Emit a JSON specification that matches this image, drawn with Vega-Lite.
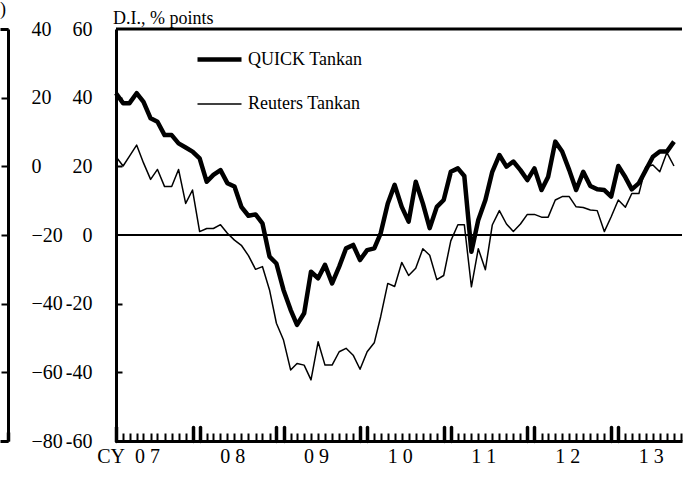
{
  "$schema": "https://vega.github.io/schema/vega-lite/v6.json",
  "padding": {"top": 1, "left": 0, "right": 0, "bottom": 0},
  "autosize": {"type": "pad"},
  "background": "white",
  "bounds": "flush",
  "spacing": 108,
  "config": {
    "view": {"stroke": null},
    "font": "Liberation Serif",
    "axis": {"labelFont": "Liberation Serif", "labelFontSize": 20, "labelColor": "black", "domainColor": "black", "tickColor": "black", "gridColor": "black", "labelFlush": false, "labelOverlap": false},
    "axisX": {"grid": false},
    "title": {"font": "Liberation Serif", "fontWeight": "normal", "color": "black", "fontSize": 18}
  },
  "hconcat": [
    {
      "width": 8,
      "height": 412,
      "title": {"text": ")", "anchor": "end", "frame": "group", "offset": 0, "dx": -2},
      "data": {"values": []},
      "mark": {"type": "point"},
      "encoding": {
        "x": {"field": "t", "type": "quantitative", "scale": {"domain": [0, 8], "nice": false, "zero": false},
          "axis": {"orient": "bottom", "title": null, "grid": false, "values": [8], "labels": false, "domainWidth": 3, "tickSize": -9, "tickWidth": 3.5}},
        "y": {"field": "v", "type": "quantitative", "scale": {"domain": [-80, 40], "nice": false, "zero": false},
          "axis": {"orient": "right", "title": null, "values": [-80, -60, -40, -20, 0, 20, 40], "domainWidth": 3, "tickSize": -7, "tickWidth": 2, "labelPadding": 30, "labelAlign": "left",
            "labelExpr": "datum.value < 0 ? '\u2212' + (-datum.value) : '' + datum.value",
            "grid": true, "gridOpacity": {"condition": {"test": "datum.value == 40", "value": 1}, "value": 0}, "gridWidth": 3}}
      }
    },
    {
      "width": 566,
      "height": 412,
      "title": {"text": "D.I., % points", "anchor": "start", "frame": "group", "offset": -9, "dx": -3},
      "resolve": {"axis": {"x": "independent", "y": "independent"}},
      "layer": [
        {
          "data": {"values": [
            {"date": "2007-01-01", "series": "QUICK Tankan", "value": 41.3},
            {"date": "2007-02-01", "series": "QUICK Tankan", "value": 38.4},
            {"date": "2007-03-01", "series": "QUICK Tankan", "value": 38.4},
            {"date": "2007-04-01", "series": "QUICK Tankan", "value": 41.3},
            {"date": "2007-05-01", "series": "QUICK Tankan", "value": 38.8},
            {"date": "2007-06-01", "series": "QUICK Tankan", "value": 34},
            {"date": "2007-07-01", "series": "QUICK Tankan", "value": 33},
            {"date": "2007-08-01", "series": "QUICK Tankan", "value": 29.1},
            {"date": "2007-09-01", "series": "QUICK Tankan", "value": 29.1},
            {"date": "2007-10-01", "series": "QUICK Tankan", "value": 26.7},
            {"date": "2007-11-01", "series": "QUICK Tankan", "value": 25.5},
            {"date": "2007-12-01", "series": "QUICK Tankan", "value": 24.3},
            {"date": "2008-01-01", "series": "QUICK Tankan", "value": 22.3},
            {"date": "2008-02-01", "series": "QUICK Tankan", "value": 15.5},
            {"date": "2008-03-01", "series": "QUICK Tankan", "value": 17.5},
            {"date": "2008-04-01", "series": "QUICK Tankan", "value": 18.9},
            {"date": "2008-05-01", "series": "QUICK Tankan", "value": 15.1},
            {"date": "2008-06-01", "series": "QUICK Tankan", "value": 14.1},
            {"date": "2008-07-01", "series": "QUICK Tankan", "value": 8.2},
            {"date": "2008-08-01", "series": "QUICK Tankan", "value": 5.6},
            {"date": "2008-09-01", "series": "QUICK Tankan", "value": 6},
            {"date": "2008-10-01", "series": "QUICK Tankan", "value": 3.4},
            {"date": "2008-11-01", "series": "QUICK Tankan", "value": -6.3},
            {"date": "2008-12-01", "series": "QUICK Tankan", "value": -8.3},
            {"date": "2009-01-01", "series": "QUICK Tankan", "value": -16},
            {"date": "2009-02-01", "series": "QUICK Tankan", "value": -21.8},
            {"date": "2009-03-01", "series": "QUICK Tankan", "value": -26.2},
            {"date": "2009-04-01", "series": "QUICK Tankan", "value": -22.8},
            {"date": "2009-05-01", "series": "QUICK Tankan", "value": -10.7},
            {"date": "2009-06-01", "series": "QUICK Tankan", "value": -12.6},
            {"date": "2009-07-01", "series": "QUICK Tankan", "value": -8.7},
            {"date": "2009-08-01", "series": "QUICK Tankan", "value": -14.1},
            {"date": "2009-09-01", "series": "QUICK Tankan", "value": -9.2},
            {"date": "2009-10-01", "series": "QUICK Tankan", "value": -3.9},
            {"date": "2009-11-01", "series": "QUICK Tankan", "value": -2.9},
            {"date": "2009-12-01", "series": "QUICK Tankan", "value": -7.3},
            {"date": "2010-01-01", "series": "QUICK Tankan", "value": -4.4},
            {"date": "2010-02-01", "series": "QUICK Tankan", "value": -3.9},
            {"date": "2010-03-01", "series": "QUICK Tankan", "value": 0.5},
            {"date": "2010-04-01", "series": "QUICK Tankan", "value": 9.2},
            {"date": "2010-05-01", "series": "QUICK Tankan", "value": 14.6},
            {"date": "2010-06-01", "series": "QUICK Tankan", "value": 8.2},
            {"date": "2010-07-01", "series": "QUICK Tankan", "value": 3.9},
            {"date": "2010-08-01", "series": "QUICK Tankan", "value": 15.5},
            {"date": "2010-09-01", "series": "QUICK Tankan", "value": 9.2},
            {"date": "2010-10-01", "series": "QUICK Tankan", "value": 2},
            {"date": "2010-11-01", "series": "QUICK Tankan", "value": 8.2},
            {"date": "2010-12-01", "series": "QUICK Tankan", "value": 10.2},
            {"date": "2011-01-01", "series": "QUICK Tankan", "value": 18.4},
            {"date": "2011-02-01", "series": "QUICK Tankan", "value": 19.4},
            {"date": "2011-03-01", "series": "QUICK Tankan", "value": 17.2},
            {"date": "2011-04-01", "series": "QUICK Tankan", "value": -4.9},
            {"date": "2011-05-01", "series": "QUICK Tankan", "value": 4.4},
            {"date": "2011-06-01", "series": "QUICK Tankan", "value": 10.2},
            {"date": "2011-07-01", "series": "QUICK Tankan", "value": 18.4},
            {"date": "2011-08-01", "series": "QUICK Tankan", "value": 23.3},
            {"date": "2011-09-01", "series": "QUICK Tankan", "value": 19.9},
            {"date": "2011-10-01", "series": "QUICK Tankan", "value": 21.4},
            {"date": "2011-11-01", "series": "QUICK Tankan", "value": 18.9},
            {"date": "2011-12-01", "series": "QUICK Tankan", "value": 16},
            {"date": "2012-01-01", "series": "QUICK Tankan", "value": 19.4},
            {"date": "2012-02-01", "series": "QUICK Tankan", "value": 13.1},
            {"date": "2012-03-01", "series": "QUICK Tankan", "value": 17},
            {"date": "2012-04-01", "series": "QUICK Tankan", "value": 27.2},
            {"date": "2012-05-01", "series": "QUICK Tankan", "value": 24.3},
            {"date": "2012-06-01", "series": "QUICK Tankan", "value": 18.9},
            {"date": "2012-07-01", "series": "QUICK Tankan", "value": 13.1},
            {"date": "2012-08-01", "series": "QUICK Tankan", "value": 18.4},
            {"date": "2012-09-01", "series": "QUICK Tankan", "value": 14.3},
            {"date": "2012-10-01", "series": "QUICK Tankan", "value": 13.3},
            {"date": "2012-11-01", "series": "QUICK Tankan", "value": 13.1},
            {"date": "2012-12-01", "series": "QUICK Tankan", "value": 11.2},
            {"date": "2013-01-01", "series": "QUICK Tankan", "value": 20.1},
            {"date": "2013-02-01", "series": "QUICK Tankan", "value": 16.8},
            {"date": "2013-03-01", "series": "QUICK Tankan", "value": 13.3},
            {"date": "2013-04-01", "series": "QUICK Tankan", "value": 15.1},
            {"date": "2013-05-01", "series": "QUICK Tankan", "value": 18.9},
            {"date": "2013-06-01", "series": "QUICK Tankan", "value": 22.8},
            {"date": "2013-07-01", "series": "QUICK Tankan", "value": 24.3},
            {"date": "2013-08-01", "series": "QUICK Tankan", "value": 24.3},
            {"date": "2013-09-01", "series": "QUICK Tankan", "value": 27.2},
            {"date": "2007-01-01", "series": "Reuters Tankan", "value": 22.8},
            {"date": "2007-02-01", "series": "Reuters Tankan", "value": 20.1},
            {"date": "2007-03-01", "series": "Reuters Tankan", "value": 23},
            {"date": "2007-04-01", "series": "Reuters Tankan", "value": 26.2},
            {"date": "2007-05-01", "series": "Reuters Tankan", "value": 21},
            {"date": "2007-06-01", "series": "Reuters Tankan", "value": 16.2},
            {"date": "2007-07-01", "series": "Reuters Tankan", "value": 19.1},
            {"date": "2007-08-01", "series": "Reuters Tankan", "value": 14.1},
            {"date": "2007-09-01", "series": "Reuters Tankan", "value": 14.1},
            {"date": "2007-10-01", "series": "Reuters Tankan", "value": 19.1},
            {"date": "2007-11-01", "series": "Reuters Tankan", "value": 9.2},
            {"date": "2007-12-01", "series": "Reuters Tankan", "value": 13.1},
            {"date": "2008-01-01", "series": "Reuters Tankan", "value": 1},
            {"date": "2008-02-01", "series": "Reuters Tankan", "value": 1.9},
            {"date": "2008-03-01", "series": "Reuters Tankan", "value": 1.9},
            {"date": "2008-04-01", "series": "Reuters Tankan", "value": 3},
            {"date": "2008-05-01", "series": "Reuters Tankan", "value": 0.5},
            {"date": "2008-06-01", "series": "Reuters Tankan", "value": -1.5},
            {"date": "2008-07-01", "series": "Reuters Tankan", "value": -3},
            {"date": "2008-08-01", "series": "Reuters Tankan", "value": -6},
            {"date": "2008-09-01", "series": "Reuters Tankan", "value": -10},
            {"date": "2008-10-01", "series": "Reuters Tankan", "value": -9.2},
            {"date": "2008-11-01", "series": "Reuters Tankan", "value": -16},
            {"date": "2008-12-01", "series": "Reuters Tankan", "value": -25.7},
            {"date": "2009-01-01", "series": "Reuters Tankan", "value": -30.6},
            {"date": "2009-02-01", "series": "Reuters Tankan", "value": -39.3},
            {"date": "2009-03-01", "series": "Reuters Tankan", "value": -37.4},
            {"date": "2009-04-01", "series": "Reuters Tankan", "value": -37.9},
            {"date": "2009-05-01", "series": "Reuters Tankan", "value": -42.2},
            {"date": "2009-06-01", "series": "Reuters Tankan", "value": -31.1},
            {"date": "2009-07-01", "series": "Reuters Tankan", "value": -37.9},
            {"date": "2009-08-01", "series": "Reuters Tankan", "value": -37.9},
            {"date": "2009-09-01", "series": "Reuters Tankan", "value": -34},
            {"date": "2009-10-01", "series": "Reuters Tankan", "value": -33},
            {"date": "2009-11-01", "series": "Reuters Tankan", "value": -35},
            {"date": "2009-12-01", "series": "Reuters Tankan", "value": -39.1},
            {"date": "2010-01-01", "series": "Reuters Tankan", "value": -34},
            {"date": "2010-02-01", "series": "Reuters Tankan", "value": -31.4},
            {"date": "2010-03-01", "series": "Reuters Tankan", "value": -23.8},
            {"date": "2010-04-01", "series": "Reuters Tankan", "value": -14.1},
            {"date": "2010-05-01", "series": "Reuters Tankan", "value": -15},
            {"date": "2010-06-01", "series": "Reuters Tankan", "value": -8},
            {"date": "2010-07-01", "series": "Reuters Tankan", "value": -11.8},
            {"date": "2010-08-01", "series": "Reuters Tankan", "value": -9.7},
            {"date": "2010-09-01", "series": "Reuters Tankan", "value": -4},
            {"date": "2010-10-01", "series": "Reuters Tankan", "value": -5.9},
            {"date": "2010-11-01", "series": "Reuters Tankan", "value": -13},
            {"date": "2010-12-01", "series": "Reuters Tankan", "value": -11.8},
            {"date": "2011-01-01", "series": "Reuters Tankan", "value": -1.7},
            {"date": "2011-02-01", "series": "Reuters Tankan", "value": 3},
            {"date": "2011-03-01", "series": "Reuters Tankan", "value": 3},
            {"date": "2011-04-01", "series": "Reuters Tankan", "value": -15.1},
            {"date": "2011-05-01", "series": "Reuters Tankan", "value": -4},
            {"date": "2011-06-01", "series": "Reuters Tankan", "value": -10.1},
            {"date": "2011-07-01", "series": "Reuters Tankan", "value": 2.9},
            {"date": "2011-08-01", "series": "Reuters Tankan", "value": 7.1},
            {"date": "2011-09-01", "series": "Reuters Tankan", "value": 3.2},
            {"date": "2011-10-01", "series": "Reuters Tankan", "value": 1},
            {"date": "2011-11-01", "series": "Reuters Tankan", "value": 3.2},
            {"date": "2011-12-01", "series": "Reuters Tankan", "value": 6},
            {"date": "2012-01-01", "series": "Reuters Tankan", "value": 6},
            {"date": "2012-02-01", "series": "Reuters Tankan", "value": 5.2},
            {"date": "2012-03-01", "series": "Reuters Tankan", "value": 5.2},
            {"date": "2012-04-01", "series": "Reuters Tankan", "value": 10.2},
            {"date": "2012-05-01", "series": "Reuters Tankan", "value": 11.2},
            {"date": "2012-06-01", "series": "Reuters Tankan", "value": 11.2},
            {"date": "2012-07-01", "series": "Reuters Tankan", "value": 8.2},
            {"date": "2012-08-01", "series": "Reuters Tankan", "value": 8},
            {"date": "2012-09-01", "series": "Reuters Tankan", "value": 7.3},
            {"date": "2012-10-01", "series": "Reuters Tankan", "value": 7.1},
            {"date": "2012-11-01", "series": "Reuters Tankan", "value": 1},
            {"date": "2012-12-01", "series": "Reuters Tankan", "value": 5.3},
            {"date": "2013-01-01", "series": "Reuters Tankan", "value": 10.2},
            {"date": "2013-02-01", "series": "Reuters Tankan", "value": 8.1},
            {"date": "2013-03-01", "series": "Reuters Tankan", "value": 12.1},
            {"date": "2013-04-01", "series": "Reuters Tankan", "value": 12.1},
            {"date": "2013-05-01", "series": "Reuters Tankan", "value": 19.9},
            {"date": "2013-06-01", "series": "Reuters Tankan", "value": 20.4},
            {"date": "2013-07-01", "series": "Reuters Tankan", "value": 18.4},
            {"date": "2013-08-01", "series": "Reuters Tankan", "value": 24},
            {"date": "2013-09-01", "series": "Reuters Tankan", "value": 20.1}
          ]},
          "mark": {"type": "line", "color": "black", "strokeJoin": "round"},
          "encoding": {
            "x": {"field": "date", "type": "temporal",
              "scale": {"type": "utc", "domain": [{"year": 2007, "month": 1, "date": 1, "utc": true}, {"year": 2013, "month": 10, "date": 6, "utc": true}]},
              "axis": {"orient": "bottom", "title": null, "grid": false, "domainWidth": 3, "ticks": false,
                "tickCount": {"interval": "month", "step": 1},
                "labelPadding": 5,
                "labelOffset": 5,
                "labelExpr": "utcyear(datum.value) == 2007 ? (utcmonth(datum.value) == 1 ? 'CY\u20020 7' : '') : (utcmonth(datum.value) == 4 ? floor((utcyear(datum.value) - 2000) / 10) + ' ' + ((utcyear(datum.value) - 2000) % 10) : '')"}},
            "y": {"field": "value", "type": "quantitative", "scale": {"domain": [-60, 60], "nice": false, "zero": false},
              "axis": {"orient": "left", "title": null, "grid": false, "values": [-60, -40, -20, 0, 20, 40, 60], "domainWidth": 3, "ticks": false, "labelPadding": 24,
                "labelExpr": "datum.value < 0 ? '-' + (-datum.value) : '' + datum.value"}},
            "strokeWidth": {"field": "series", "type": "nominal",
              "scale": {"domain": ["QUICK Tankan", "Reuters Tankan"], "range": [4.5, 1.5]},
              "legend": {"orient": "none", "legendX": 195, "legendY": 6, "title": null, "symbolType": "stroke", "symbolSize": 1936, "symbolStrokeColor": "black", "labelFont": "Liberation Serif", "labelFontSize": 18, "labelColor": "black", "labelOffset": 4, "labelLimit": 400, "rowPadding": 12, "padding": 0}}
          }
        },
        {
          "data": {"values": [{}]},
          "mark": {"type": "rule", "strokeWidth": 2, "color": "black"},
          "encoding": {
            "y": {"datum": 0, "type": "quantitative", "axis": null},
            "x": {"datum": {"year": 2007, "month": 1, "date": 1, "utc": true}, "type": "temporal",
              "axis": {"orient": "bottom", "title": null, "grid": false, "domain": false, "labels": false, "tickSize": -14, "tickWidth": 3.5, "tickCap": "round",
                "values": [
                  {"year": 2007, "month": 1, "date": 1, "utc": true},
                  {"year": 2007, "month": 12, "date": 1, "utc": true},
                  {"year": 2008, "month": 1, "date": 1, "utc": true},
                  {"year": 2008, "month": 12, "date": 1, "utc": true},
                  {"year": 2009, "month": 1, "date": 1, "utc": true},
                  {"year": 2009, "month": 12, "date": 1, "utc": true},
                  {"year": 2010, "month": 1, "date": 1, "utc": true},
                  {"year": 2010, "month": 12, "date": 1, "utc": true},
                  {"year": 2011, "month": 1, "date": 1, "utc": true},
                  {"year": 2011, "month": 12, "date": 1, "utc": true},
                  {"year": 2012, "month": 1, "date": 1, "utc": true},
                  {"year": 2012, "month": 12, "date": 1, "utc": true},
                  {"year": 2013, "month": 1, "date": 1, "utc": true}
                ]}},
            "x2": {"datum": {"year": 2013, "month": 10, "date": 6, "utc": true}}
          }
        },
        {
          "data": {"values": [{}]},
          "mark": {"type": "rule", "strokeWidth": 3, "color": "black"},
          "encoding": {
            "y": {"datum": 60, "type": "quantitative",
              "axis": {"orient": "left", "title": null, "grid": false, "domain": false, "labels": false, "tickSize": -6, "tickWidth": 2, "zindex": 1, "values": [-40, -20, 20, 40]}},
            "x": {"datum": {"year": 2007, "month": 1, "date": 1, "utc": true}, "type": "temporal",
              "axis": {"orient": "bottom", "title": null, "grid": false, "domain": false, "labels": false, "tickSize": -8, "tickWidth": 2, "zindex": 1,
                "tickCount": {"interval": "month", "step": 1}}},
            "x2": {"datum": {"year": 2013, "month": 10, "date": 6, "utc": true}}
          }
        }
      ]
    }
  ]
}
